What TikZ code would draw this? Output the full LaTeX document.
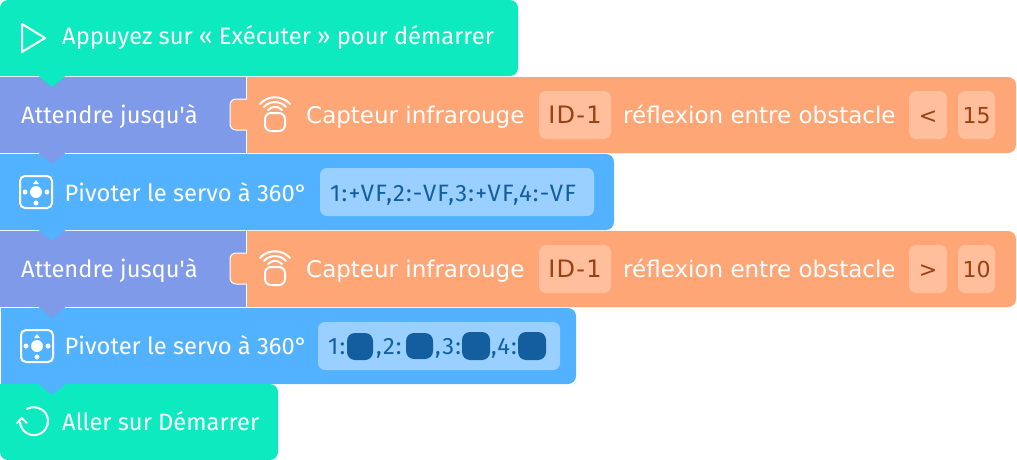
\documentclass[tikz,border=0pt]{standalone}
\usepackage{fontspec}
\setmainfont{Fira Sans}
\newfontfamily\sensorfont{DejaVu Sans}
\newfontfamily\idfont[LetterSpace=5]{DejaVu Sans}
\newfontfamily\speedfont[LetterSpace=5]{Fira Sans}
\usepackage{tikz}
\definecolor{startgreen}{HTML}{0DEAC0}
\definecolor{waitpurple}{HTML}{7E9AE8}
\definecolor{sensororange}{HTML}{FFA676}
\definecolor{servoblue}{HTML}{52B2FF}
\definecolor{fieldblue}{HTML}{99D0FF}
\definecolor{fieldorange}{HTML}{FFBE9C}
\definecolor{inkblue}{HTML}{125E9E}
\definecolor{inkbrown}{HTML}{9A4112}
\tikzset{
  blocktext/.style={anchor=base west,inner sep=0pt,text=white,font=\fontsize{23.7}{24}\selectfont},
  sensortext/.style={anchor=base west,inner sep=0pt,text=white,font=\sensorfont\fontsize{23}{24}\selectfont},
  valuetext/.style={anchor=base,inner sep=0pt,text=inkbrown,font=\sensorfont\fontsize{22}{24}\selectfont},
  idtext/.style={anchor=base,inner sep=0pt,text=inkbrown,font=\idfont\fontsize{24}{24}\selectfont},
  speedtext/.style={anchor=base west,inner sep=0pt,text=inkblue,font=\speedfont\fontsize{23.7}{24}\selectfont},
  icon/.style={draw=white,line width=2pt},
  seam/.style={draw=white,line width=1pt},
  field/.style={rounded corners=7pt}
}
% block with rounded right corners: colour, left x, top y, right x
\newcommand{\rightblock}[4]{\fill[#1] (#2,#3) -- (#4-8,#3) arc (90:0:8pt) -- (#4,#3+68) arc (0:-90:8pt) -- (#2,#3+76) -- cycle;}
% tab that hangs under a block: colour, top y
\newcommand{\blocktab}[2]{\fill[#1,rounded corners=1.5pt] (38,#2) -- (52,#2+11) -- (66,#2) -- cycle;}
% sensor plug and icon: top y of the plug
\newcommand{\sensorplug}[1]{
\draw[seam,fill=sensororange,rounded corners=6pt] (247,#1) -- (230,#1) -- (230,#1+31) -- (247,#1+31);
\fill[sensororange] (246,#1+1) rectangle (249,#1+30);
\draw[icon,rounded corners=6pt] (265,#1+14) rectangle (285,#1+32);
\draw[icon,line cap=round] (268,#1+11) to [out=50,in=130] (282,#1+11);
\draw[icon,line cap=round] (264,#1+8) to [out=50,in=130] (286,#1+8);
\draw[icon,line cap=round] (260,#1+5) to [out=50,in=130] (290,#1+5);}
% servo icon: left x, top y
\newcommand{\servoicon}[2]{
\draw[icon,rounded corners=5pt] (#1,#2) rectangle (#1+32,#2+32);
\fill[white] (#1+16,#2+16) circle (6pt) (#1+5,#2+16) circle (2.5pt) (#1+27,#2+16) circle (2.5pt) (#1+16,#2+27) circle (2.5pt);
\fill[white] (#1+13,#2+8) -- (#1+16,#2+4) -- (#1+19,#2+8) -- cycle;}
\begin{document}
\begin{tikzpicture}[x=1pt,y=-1pt]
\useasboundingbox (0,0) rectangle (1017,460);
%%% The start block
\fill[startgreen] (0,76) -- (0,8) arc (180:90:8pt) -- (510,0) arc (90:0:8pt) -- (518,68) arc (0:-90:8pt) -- cycle;
\draw[icon,line join=round] (22,24) -- (45,38) -- (22,52) -- cycle;
\node[blocktext] (startlabel) at (62,45) {Appuyez sur « Exécuter » pour démarrer};
%%% First wait block
\fill[waitpurple] (0,77) rectangle (246,153);
\rightblock{sensororange}{247}{77}{1016}
\sensorplug{99}
\blocktab{startgreen}{76}
\node[blocktext] (waitone) at (21,123) {Attendre jusqu\textquotesingle à};
\node[sensortext] (sensorone) at (306,123) {Capteur infrarouge};
\fill[fieldorange,field] (539,91) rectangle (611,139);
\node[idtext] (idone) at (575,123) {ID-1};
\node[sensortext] (reflone) at (623,123) {réflexion entre obstacle};
\fill[fieldorange,field] (909,91) rectangle (947,139);
\node[valuetext] (opone) at (928,123) {<};
\fill[fieldorange,field] (958,91) rectangle (995,139);
\node[valuetext] (valone) at (976.5,123) {15};
%%% First servo block
\rightblock{servoblue}{0}{154}{614}
\blocktab{waitpurple}{153}
\servoicon{20}{176}
\node[blocktext] (servoone) at (64.5,201) {Pivoter le servo à 360°};
\fill[fieldblue,field] (320,168) rectangle (594,216);
\node[speedtext] (speedone) at (330,201) {1:+VF,2:-VF,3:+VF,4:-VF};
%%% Second wait block
\fill[waitpurple] (0,231) rectangle (246,307);
\rightblock{sensororange}{247}{231}{1016}
\sensorplug{253}
\blocktab{servoblue}{230}
\node[blocktext] (waittwo) at (21,277) {Attendre jusqu\textquotesingle à};
\node[sensortext] (sensortwo) at (306,277) {Capteur infrarouge};
\fill[fieldorange,field] (539,245) rectangle (611,293);
\node[idtext] (idtwo) at (575,277) {ID-1};
\node[sensortext] (refltwo) at (623,277) {réflexion entre obstacle};
\fill[fieldorange,field] (909,245) rectangle (947,293);
\node[valuetext] (optwo) at (928,277) {>};
\fill[fieldorange,field] (958,245) rectangle (995,293);
\node[valuetext] (valtwo) at (976.5,277) {10};
%%% Second servo block
\rightblock{servoblue}{1}{308}{576}
\blocktab{waitpurple}{307}
\servoicon{21}{330}
\node[blocktext] (servotwo) at (64.5,354) {Pivoter le servo à 360°};
\fill[fieldblue,field] (318,322) rectangle (560,370);
\node[speedtext] (speeda) at (328,354) {1:};
\fill[inkblue,rounded corners=8pt] (347,333) rectangle (373,360);
\node[speedtext] (speedb) at (376,354) {,2:};
\fill[inkblue,rounded corners=8pt] (406,333) rectangle (433,359);
\node[speedtext] (speedc) at (435,354) {,3:};
\fill[inkblue,rounded corners=8pt] (462,332) rectangle (490,360);
\node[speedtext] (speedd) at (491,354) {,4:};
\fill[inkblue,rounded corners=8pt] (518,332) rectangle (546,360);
%%% The end block
\fill[startgreen] (0,384) -- (270,384) arc (90:0:8pt) -- (278,452) arc (0:-90:8pt) -- (8,460) arc (-90:-180:8pt) -- cycle;
\blocktab{servoblue}{384}
\draw[icon,line cap=round] (27,409) arc (120:-175:14pt);
\draw[icon,line cap=round,line join=round] (17,423) -- (21.7,418) -- (26.7,423);
\node[blocktext] (endlabel) at (62,430) {Aller sur Démarrer};
\end{tikzpicture}
\end{document}
